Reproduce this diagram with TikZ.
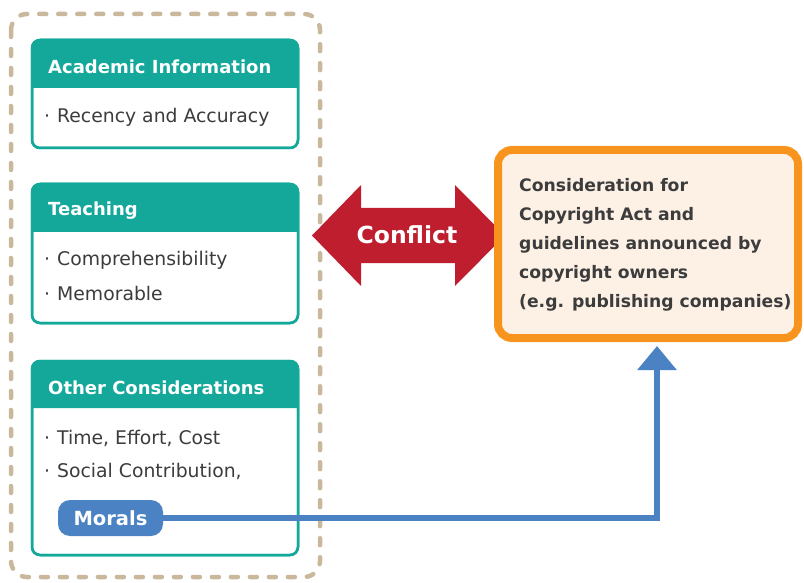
\documentclass[tikz,border=0pt]{standalone}
\usepackage{fontspec}
\setmainfont{DejaVu Sans}
\usetikzlibrary{arrows.meta}
\definecolor{tealc}{HTML}{13A89A}
\definecolor{tanc}{HTML}{C9B89C}
\definecolor{redc}{HTML}{BE1E2D}
\definecolor{orangec}{HTML}{F7941D}
\definecolor{creamc}{HTML}{FDF1E6}
\definecolor{bluec}{HTML}{4A82C4}
\definecolor{textc}{HTML}{3C3C3C}
\tikzset{
  card/.style={draw=tealc, line width=2.5pt, fill=white, rounded corners=8pt},
  hdrfill/.style={fill=tealc},
  hdr/.style={anchor=west, text=white, font=\fontsize{18}{22}\selectfont\bfseries, inner sep=0pt},
  body/.style={anchor=west, text=textc, font=\fontsize{18.8}{22}\selectfont, inner sep=0pt},
  outerbox/.style={draw=tanc, line width=4.5pt, dash pattern=on 7pt off 12pt, line cap=round, rounded corners=16pt},
  obox/.style={draw=orangec, fill=creamc, line width=8pt, rounded corners=14pt},
  otext/.style={anchor=west, align=left, text=textc, inner sep=0pt, font=\fontsize{17.2}{29}\selectfont\bfseries},
  pill/.style={fill=bluec, text=white, rounded corners=12pt, minimum width=105pt, minimum height=36pt, inner sep=0pt, font=\fontsize{19.5}{23}\selectfont\bfseries},
  conn/.style={draw=bluec, line width=6pt, -{Triangle[width=38pt,length=24pt]}},
}
\newcommand{\bul}{\makebox[13pt][l]{·}}
\begin{document}
\begin{tikzpicture}[x=1pt,y=-1pt]
\useasboundingbox (0,0) rectangle (804,583);
% outer dashed group
\draw[outerbox] (11,14) rectangle (320,577);

% card 1
\path[card] (32,40) rectangle (298,148);
\fill[hdrfill] (32,88) [rounded corners=8pt] -- (32,40) -- (298,40) [sharp corners] -- (298,88) -- cycle;
\draw[card, fill=none] (32,40) rectangle (298,148);
\node[hdr] (h1) at (48,67) {Academic Information};
\node[body] (t1) at (44,117) {\bul Recency and Accuracy};

% card 2
\path[card] (32,184) rectangle (298,323);
\fill[hdrfill] (32,232) [rounded corners=8pt] -- (32,184) -- (298,184) [sharp corners] -- (298,232) -- cycle;
\draw[card, fill=none] (32,184) rectangle (298,323);
\node[hdr] (h2) at (48,211) {Teaching};
\node[body] (t2a) at (44,260) {\bul Comprehensibility};
\node[body] (t2b) at (44,293) {\bul Memorable};

% card 3
\path[card] (32,361) rectangle (298,555);
\fill[hdrfill] (32,408) [rounded corners=8pt] -- (32,361) -- (298,361) [sharp corners] -- (298,408) -- cycle;
\draw[card, fill=none] (32,361) rectangle (298,555);
\node[hdr] (h3) at (48,388) {Other Considerations};
\node[body] (t3a) at (44,438) {\bul Time, Effort, Cost};
\node[body] (t3b) at (44,471) {\bul Social Contribution,};
\node[pill] (mor) at (110.5,518) {Morals};

% conflict double arrow
\fill[redc] (312,235.5) -- (361,185) -- (361,208) -- (455,208) -- (455,185) -- (505,235.5)
  -- (455,286) -- (455,263) -- (361,263) -- (361,286) -- cycle;
\node[text=white, font=\fontsize{23.5}{28}\selectfont\bfseries, inner sep=0pt] (conf) at (407,235) {Conflict};

% copyright box
\node[obox, minimum width=300pt, minimum height=188pt, inner sep=0pt] (cons) at (648,244) {};
\node[otext] (ctext) at (519,245) {Consideration for\\Copyright Act and\\guidelines announced by\\copyright owners\\(e.g. publishing companies)};

% connector
\coordinate (ae) at (657,346);
\draw[conn] (mor.east) -| (ae);
\end{tikzpicture}
\end{document}
